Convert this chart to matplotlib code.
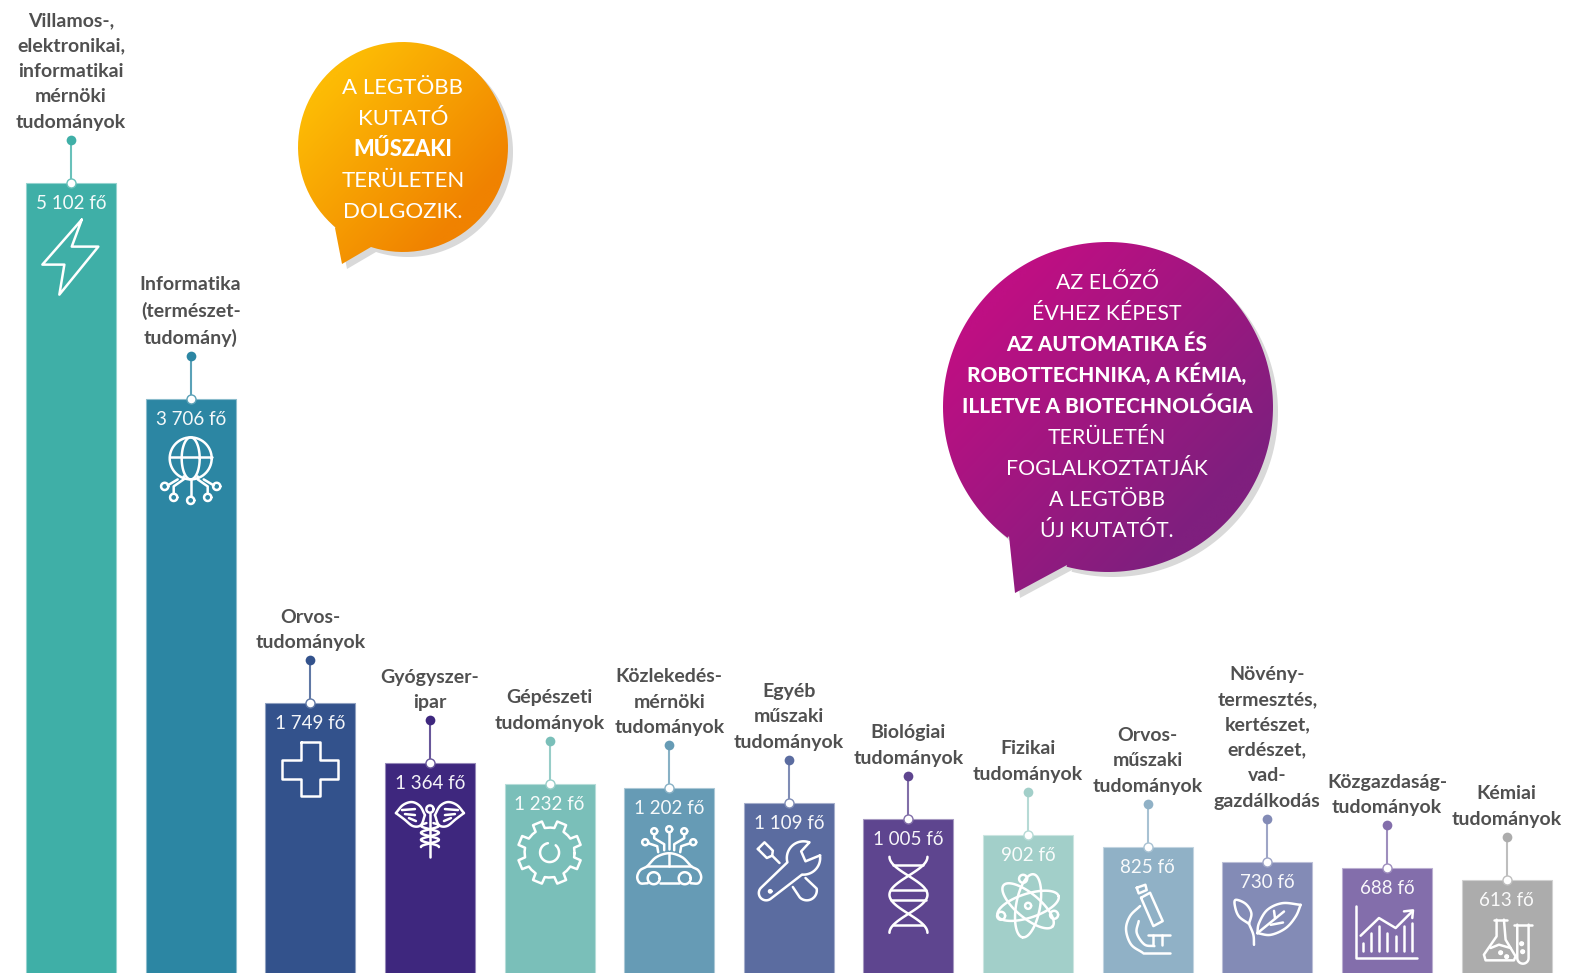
import numpy as np
import matplotlib
matplotlib.use('Agg')
import matplotlib.pyplot as plt
from matplotlib.colors import to_rgb
from matplotlib.patches import PathPatch
from matplotlib.path import Path

plt.rcParams['font.family'] = ['Lato', 'DejaVu Sans']

labels = ['Villamos-,\nelektronikai,\ninformatikai\nmérnöki\ntudományok',
          'Informatika\n(természet-\ntudomány)',
          'Orvos-\ntudományok',
          'Gyógyszer-\nipar',
          'Gépészeti\ntudományok',
          'Közlekedés-\nmérnöki\ntudományok',
          'Egyéb\nműszaki\ntudományok',
          'Biológiai\ntudományok',
          'Fizikai\ntudományok',
          'Orvos-\nműszaki\ntudományok',
          'Növény-\ntermesztés,\nkertészet,\nerdészet,\nvad-\ngazdálkodás',
          'Közgazdaság-\ntudományok',
          'Kémiai\ntudományok']
values = [5102, 3706, 1749, 1364, 1232, 1202, 1109, 1005, 902, 825, 730, 688, 613]
value_texts = ['5 102 fő', '3 706 fő', '1 749 fő', '1 364 fő', '1 232 fő', '1 202 fő',
               '1 109 fő', '1 005 fő', '902 fő', '825 fő', '730 fő', '688 fő', '613 fő']
colors = ['#3FAFA7', '#2C86A3', '#33528C', '#3E277E', '#7ABFB9', '#669BB5', '#5B6CA0',
          '#5E458F', '#A2CFC9', '#90B1C6', '#838BB6', '#836EAB', '#ACACAC']

W, H = 1570, 973
WHITE = 'white'
LW = 1.8


def lighter(c, t):
    r = np.array(to_rgb(c))
    return tuple(r + (1 - r) * t)


fig = plt.figure(figsize=(W / 100, H / 100), dpi=100)
ax = fig.add_axes([0, 0, 1, 1])
ax.set_xlim(-0.594, 12.53)
ax.set_ylim(12, 6278)
ax.axis('off')

x = np.arange(len(values))
edges = [lighter(c, 0.45) for c in colors]
ax.bar(x, values, width=0.753, color=colors, edgecolor=edges, linewidth=0.8)

# overlay in image pixels, for the bubbles, stems and icons
ov = fig.add_axes([0, 0, 1, 1], zorder=3)
ov.patch.set_alpha(0)
ov.axis('off')


def to_px(i, v):
    d = ax.transData.transform((i, v))
    return d[0], H - d[1]


def bubble(cxy, r, tail, c0, c1):
    # circle plus a tail, as one closed path
    cx, cy = cxy
    a0 = np.arctan2(tail[0][1] - cy, tail[0][0] - cx)
    a1 = np.arctan2(tail[2][1] - cy, tail[2][0] - cx)
    # go round the long way from the end of the tail back to its start
    if a0 < a1:
        a0 += 2 * np.pi
    t = np.linspace(a1, a1 - (2 * np.pi - (a0 - a1)), 200)
    pts = np.column_stack([cx + r * np.cos(t), cy + r * np.sin(t)])
    pts = np.vstack([pts, tail[0], tail[1], tail[2], pts[0]])
    shadow = PathPatch(Path(pts + [5, 5]), fc='#D9D9D9', ec='none', zorder=1)
    ov.add_patch(shadow)
    patch = PathPatch(Path(pts), fc='none', ec='none', zorder=2)
    ov.add_patch(patch)
    # diagonal colour ramp clipped to the bubble
    gy, gx = np.mgrid[0:1:100j, 0:1:100j]
    g = np.clip((gx + gy - 0.35) / 1.2, 0, 1)[..., None]
    img = np.array(to_rgb(c0)) * (1 - g) + np.array(to_rgb(c1)) * g
    im = ov.imshow(img, extent=[cx - r - 2, cx + r + 2, tail[1][1] + 2, cy - r - 2],
                   aspect='auto', zorder=2, interpolation='bilinear')
    im.set_clip_path(patch)


bubble((403, 147), 105, [(335, 228), (342, 264), (371, 247)], '#FDBB05', '#F08200')
bubble((1108, 407), 165, [(1009, 536), (1015, 593), (1067, 565)], '#BE0F83', '#7F1F7E')


def bubble_text(cx, y0, lines, bold, step, size, bold_size):
    for k, s in enumerate(lines):
        ov.text(cx, y0 + k * step, s, color=WHITE, ha='center', va='baseline', zorder=4,
                fontsize=bold_size if k in bold else size, fontweight='black' if k in bold else 'normal')


bubble_text(403, 94, ['A LEGTÖBB', 'KUTATÓ', 'MŰSZAKI', 'TERÜLETEN', 'DOLGOZIK.'], [2], 30.9, 16, 15.7)
bubble_text(1107, 289, ['AZ ELŐZŐ', 'ÉVHEZ KÉPEST', 'AZ AUTOMATIKA ÉS', 'ROBOTTECHNIKA, A KÉMIA,',
                        'ILLETVE A BIOTECHNOLÓGIA', 'TERÜLETÉN', 'FOGLALKOZTATJÁK', 'A LEGTÖBB',
                        'ÚJ KUTATÓT.'], [2, 3, 4], 31, 15.3, 14.9)


def arc(x0, y0, r, a0=0, a1=360, n=60, ry=None):
    t = np.radians(np.linspace(a0, a1, n))
    return np.column_stack([x0 + r * np.cos(t), y0 + (ry or r) * np.sin(t)])


def rot(p, deg):
    a = np.radians(deg)
    m = np.array([[np.cos(a), -np.sin(a)], [np.sin(a), np.cos(a)]])
    return np.asarray(p) @ m.T


def z(pts, x0, y0):
    return (np.asarray(pts, float) - [x0, y0]) / 3


def smooth(pts, n=12):
    # catmull-rom through the points, for the rounded icon outlines
    p = np.asarray(pts, float)
    p = np.vstack([2 * p[0] - p[1], p, 2 * p[-1] - p[-2]])
    out = []
    for i in range(1, len(p) - 2):
        for t in np.linspace(0, 1, n, endpoint=False):
            out.append(0.5 * (2 * p[i] + (p[i + 1] - p[i - 1]) * t
                              + (2 * p[i - 1] - 5 * p[i] + 4 * p[i + 1] - p[i + 2]) * t ** 2
                              + (3 * p[i] - p[i - 1] - 3 * p[i + 1] + p[i + 2]) * t ** 3))
    out.append(p[-2])
    return np.array(out)


def icon_bolt():
    return [[(10.7, 37), (0.7, 64), (27.3, 64), (-11.7, 112), (-6.7, 82), (-28.7, 82), (10.7, 37)]]


def icon_net():
    s = [arc(0, 59, 21), [(-21, 58), (21, 58)], arc(0, 59, 9, ry=21)]
    for dx, dy in [(-26, 87), (-17, 98), (0, 101), (17, 98), (26, 87)]:
        s.append(arc(dx, dy, 3.6))
    s += [[(-23, 86), (-13, 80)], [(-17, 94), (-17, 87), (-7, 80), (-7, 77)],
          [(0, 97), (0, 80)], [(17, 94), (17, 87), (7, 80), (7, 77)], [(23, 86), (13, 80)]]
    return s


def icon_cross():
    return [[(-9.5, 39), (9.5, 39), (9.5, 57), (28, 57), (28, 76), (9.5, 76), (9.5, 93), (-9.5, 93),
             (-9.5, 76), (-28, 76), (-28, 57), (-9.5, 57), (-9.5, 39)]]


def icon_caduceus():
    s = [[(0, 50), (0, 94)], arc(0, 46, 3.6)]
    for m in (-1, 1):
        s.append(smooth([(m * 5, 52), (m * 10, 43), (m * 18, 39), (m * 27, 42), (m * 34, 50)]))
        s.append(smooth([(m * 34, 50), (m * 26, 56), (m * 17, 63), (m * 9, 62), (m * 5, 52)]))
        s.append([(m * 15, 46), (m * 28, 47)])
        s.append([(m * 15, 52), (m * 25, 51)])
        s.append([(m * 14, 58), (m * 21, 55)])
    t = np.linspace(0, 1, 40)
    s.append(np.column_stack([9 * np.sin(t * 3.4 * np.pi + 0.4), 60 + t * 24]))
    s.append(np.column_stack([-9 * np.sin(t * 3.4 * np.pi + 0.4), 60 + t * 24]))
    return s


def icon_gear():
    t = np.linspace(0, 2 * np.pi, 8, endpoint=False) + np.pi / 8
    pts = []
    for a in t:
        for da, r in [(-0.36, 25), (-0.2, 25), (-0.15, 32), (0.15, 32), (0.2, 25)]:
            pts.append((r * np.cos(a + da), 69 + r * np.sin(a + da)))
    pts.append(pts[0])
    return [pts, arc(0, 69, 9.5, -50, 260)]


def icon_car():
    s = [arc(-15.5, 90, 6), arc(15.5, 90, 6),
         smooth([(-21.5, 95), (-29, 95), (-32, 89), (-29, 82), (-22, 78), (-13, 69), (0, 65), (13, 69),
                 (22, 78), (29, 82), (32, 89), (29, 95), (21.5, 95)]),
         [(-9.5, 95), (9.5, 95)], [(-22, 78), (22, 78)], [(0, 65), (0, 78)]]
    for dx, dy in [(-15, 43), (0, 41), (15, 43), (-24, 54), (24, 54)]:
        s.append(arc(dx, dy, 3))
    s += [[(0, 44), (0, 61)], [(-15, 46), (-15, 50), (-5, 56), (-5, 62)], [(15, 46), (15, 50), (5, 56), (5, 62)],
          [(-21, 55), (-12, 58), (-11, 64)], [(21, 55), (12, 58), (11, 64)]]
    return s


def icon_tools():
    x0, y0 = 178, 459
    wrench = np.vstack([[(240, 578), (215, 605), (228, 635), (272, 617)],
                        arc(222, 625, 50, -9, 95, 30),
                        arc(110, 730, 22, 50, 225, 30),
                        arc(222, 625, 50, 165, 288, 30)])
    s = [z(wrench, x0, y0), z(arc(122, 725, 3.5), x0, y0),
         z([(85, 598), (105, 578), (130, 603), (128, 618), (112, 625), (85, 598)], x0, y0),
         z([(128, 618), (150, 640)], x0, y0),
         z(np.vstack([[(190, 712)], arc(232, 722, 30, 135, -10, 30)[:], [(228, 685)]]), x0, y0)]
    return s


def icon_dna():
    y = np.linspace(38, 114, 60)
    c = 19 * np.cos(2 * np.pi * (y - 38) / 76)
    s = [np.column_stack([c, y]), np.column_stack([-c, y])]
    for ry in [46, 71, 81, 106]:
        w = abs(19 * np.cos(2 * np.pi * (ry - 38) / 76))
        s.append([(-w, ry), (w, ry)])
    return s


def icon_atom():
    s = [arc(0, 71, 3)]
    for deg in (-18, 40, 100):
        e = arc(0, 0, 32, ry=12, n=80)
        s.append(rot(e, deg) + [0, 71])
    for dx, dy in [(-5, 44), (-27, 81), (26, 80)]:
        s.append(arc(dx, dy, 4))
    return s


def icon_microscope():
    x0, y0 = 1255, 592
    return [z([(1235, 745), (1262, 730), (1300, 815), (1272, 830), (1235, 745)], x0, y0),
            z([(1222, 715), (1248, 706), (1252, 722), (1228, 732), (1222, 715)], x0, y0),
            z(smooth([(1232, 770), (1202, 800), (1190, 840), (1205, 885), (1240, 910)]), x0, y0),
            z(smooth([(1228, 815), (1222, 850), (1245, 885), (1275, 890)]), x0, y0),
            z([(1240, 910), (1322, 910)], x0, y0),
            z([(1255, 858), (1322, 858)], x0, y0),
            z([(1272, 858), (1272, 888)], x0, y0),
            z([(1298, 858), (1298, 888)], x0, y0)]


def icon_leaf():
    x0, y0 = 205, 635
    return [z(smooth([(305, 765), (250, 760), (205, 780), (180, 820), (175, 850)]), x0, y0),
            z(smooth([(175, 850), (215, 855), (260, 835), (290, 800), (305, 765)]), x0, y0),
            z([(175, 850), (255, 785)], x0, y0),
            z([(215, 825), (252, 818)], x0, y0),
            z([(228, 805), (225, 783)], x0, y0),
            z(smooth([(165, 885), (163, 855), (150, 822)]), x0, y0),
            z(smooth([(150, 822), (120, 800), (108, 770), (110, 750), (140, 762), (157, 790), (150, 822)]), x0, y0)]


def icon_chart():
    x0, y0 = 564, 655
    s = [z([(470, 770), (470, 925), (655, 925)], x0, y0),
         z([(485, 858), (540, 805), (590, 835), (640, 785)], x0, y0),
         z([(615, 785), (642, 782), (640, 805)], x0, y0)]
    for bx, by in [(492, 880), (515, 850), (540, 830), (565, 850), (590, 860), (615, 830), (640, 820)]:
        s.append(z([(bx, by), (bx, 905)], x0, y0))
    return s


def icon_flask():
    x0, y0 = 923, 690
    return [z([(885, 810), (925, 810)], x0, y0),
            z([(893, 810), (893, 860), (855, 915), (860, 932), (945, 932), (950, 920), (920, 870), (915, 810)], x0, y0),
            z([(945, 825), (998, 825)], x0, y0),
            z(np.vstack([[(955, 825)], arc(972, 925, 17, 180, 0, 20), [(989, 825)]]), x0, y0),
            z([(875, 895), (900, 885), (935, 895)], x0, y0),
            arc(-6, 73, 1.3), arc(0, 77, 1.3), arc(15, 64, 1.3), arc(16, 72, 1.3)]


icons = [icon_bolt, icon_net, icon_cross, icon_caduceus, icon_gear, icon_car, icon_tools,
         icon_dna, icon_atom, icon_microscope, icon_leaf, icon_chart, icon_flask]

for i, v in enumerate(values):
    cx, top = to_px(i, v)
    stem = lighter(colors[i], 0.22)
    ov.plot([cx, cx], [top - 43, top], color=stem, lw=1.5, zorder=5, solid_capstyle='butt')
    ov.plot(cx, top - 43, 'o', ms=7, color=colors[i], mec='none', zorder=6)
    ov.plot(cx, top, 'o', ms=6.5, mfc=WHITE, mec=stem, mew=1, zorder=6)
    ax.annotate(labels[i], (i, v), xytext=(0, 55), textcoords='offset pixels', ha='center', va='baseline',
                fontsize=14, fontweight='bold', color='#505050', linespacing=1.6)
    ax.annotate(value_texts[i], (i, v), xytext=(0, -26), textcoords='offset pixels', ha='center',
                va='baseline', fontsize=13.5, color='white', alpha=0.95)
    for stroke in icons[i]():
        p = np.asarray(stroke, float)
        ov.plot(cx + p[:, 0], top + p[:, 1], color=WHITE, lw=LW, zorder=7,
                solid_joinstyle='round', solid_capstyle='round')

ov.set_xlim(0, W)
ov.set_ylim(H, 0)
fig.savefig('out.png', dpi=100)
